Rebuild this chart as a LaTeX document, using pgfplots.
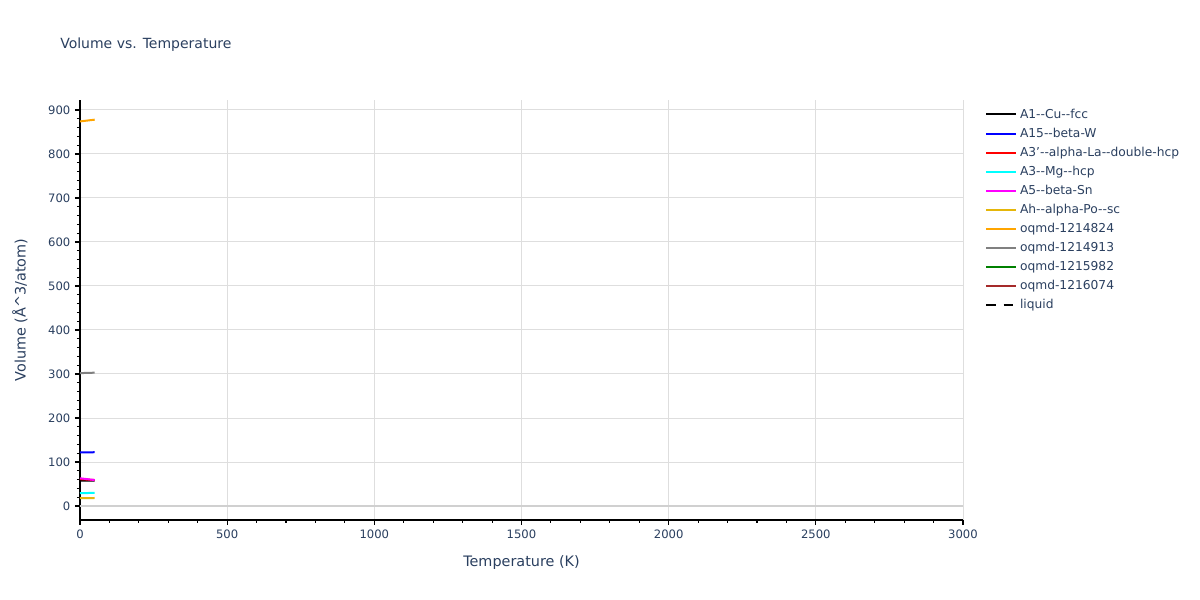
\documentclass[border=0pt]{standalone}
\usepackage{fontspec}
\setmainfont{DejaVu Sans}
\usepackage{pgfplots}
\pgfplotsset{compat=1.18}
\definecolor{txt}{HTML}{2A3F5F}
\definecolor{gridc}{HTML}{DEDEDE}
\definecolor{zeroc}{HTML}{D0D0D0}
\definecolor{cyn}{HTML}{00FFFF}
\definecolor{mgnt}{HTML}{FF00FF}
\definecolor{gold}{HTML}{E5B60A}
\definecolor{orng}{HTML}{FFA500}
\definecolor{brwn}{HTML}{A52A2A}
\definecolor{grn}{HTML}{008000}

\begin{document}
\begin{tikzpicture}[x=0.75pt,y=0.75pt]
  % page = 1200 x 600 px, 1 px = 0.75 pt
  \useasboundingbox (0,0) rectangle (1200,600);
  \node[anchor=west, text=txt, font=\fontsize{10.5pt}{13pt}\selectfont, inner sep=0pt] at (60,555) {Volume vs. Temperature};
  \begin{axis}[
    at={(60pt,60pt)}, anchor=south west,
    scale only axis,
    width=662.25pt, height=315pt,
    xmin=0, xmax=3000,
    ymin=-31.8, ymax=922.7,
    xtick distance=500,
    ytick={0,100,...,900},
    minor x tick num=4,
    minor y tick num=4,
    axis x line*=bottom,
    axis y line*=left,
    axis line style={black, line width=0.8pt},
    tick align=outside,
    major tick length=3.75pt,
    minor tick length=2.25pt,
    every tick/.style={black, line width=0.8pt},
    xmajorgrids, ymajorgrids,
    grid style={gridc, line width=0.75pt},
    tick label style={text=txt, font=\fontsize{8.7pt}{10pt}\selectfont},
    /pgf/number format/assume math mode=true,
    /pgf/number format/1000 sep={},
    label style={text=txt, font=\fontsize{10.8pt}{12pt}\selectfont},
    xlabel={Temperature (K)},
    ylabel={Volume (Å\textasciicircum 3/atom)},
    xlabel style={at={(axis description cs:0.5,-0.102)}, anchor=center},
    ylabel style={at={(axis description cs:-0.068,0.5)}, anchor=center},
    legend cell align=left,
    legend style={
      at={(1.025,0.986)}, anchor=north west,
      draw=none, fill=none,
      font=\fontsize{9.2pt}{10.5pt}\selectfont,
      text=txt,
      row sep=1.8pt,
      inner sep=0pt,
    },
    legend image code/.code={\draw[#1, line width=1.5pt] (0pt,0pt) -- (22.5pt,0pt);},
    every axis plot/.append style={line width=1.5pt},
  ]
    \draw[zeroc, line width=1.5pt] (axis cs:0,0) -- (axis cs:3000,0);
    \addplot[black] coordinates {(0,58.0) (50,57.5)};
    \addlegendentry{A1-{}-Cu-{}-fcc}
    \addplot[blue] coordinates {(0,121.8) (50,122.2)};
    \addlegendentry{A15-{}-beta-W}
    \addplot[red] coordinates {(0,61.0) (50,59.0)};
    \addlegendentry{A3'-{}-alpha-La-{}-double-hcp}
    \addplot[cyn] coordinates {(0,29.5) (50,29.6)};
    \addlegendentry{A3-{}-Mg-{}-hcp}
    \addplot[mgnt] coordinates {(0,63.0) (50,59.0)};
    \addlegendentry{A5-{}-beta-Sn}
    \addplot[gold] coordinates {(0,18.0) (50,18.2)};
    \addlegendentry{Ah-{}-alpha-Po-{}-sc}
    \addplot[orng] coordinates {(0,874.0) (50,878.0)};
    \addlegendentry{oqmd-1214824}
    \addplot[gray] coordinates {(0,302.0) (50,303.0)};
    \addlegendentry{oqmd-1214913}
    \addlegendimage{grn}
    \addlegendentry{oqmd-1215982}
    \addlegendimage{brwn}
    \addlegendentry{oqmd-1216074}
    \addlegendimage{black, dash pattern=on 7pt off 6pt}
    \addlegendentry{liquid}
  \end{axis}
\end{tikzpicture}
\end{document}
